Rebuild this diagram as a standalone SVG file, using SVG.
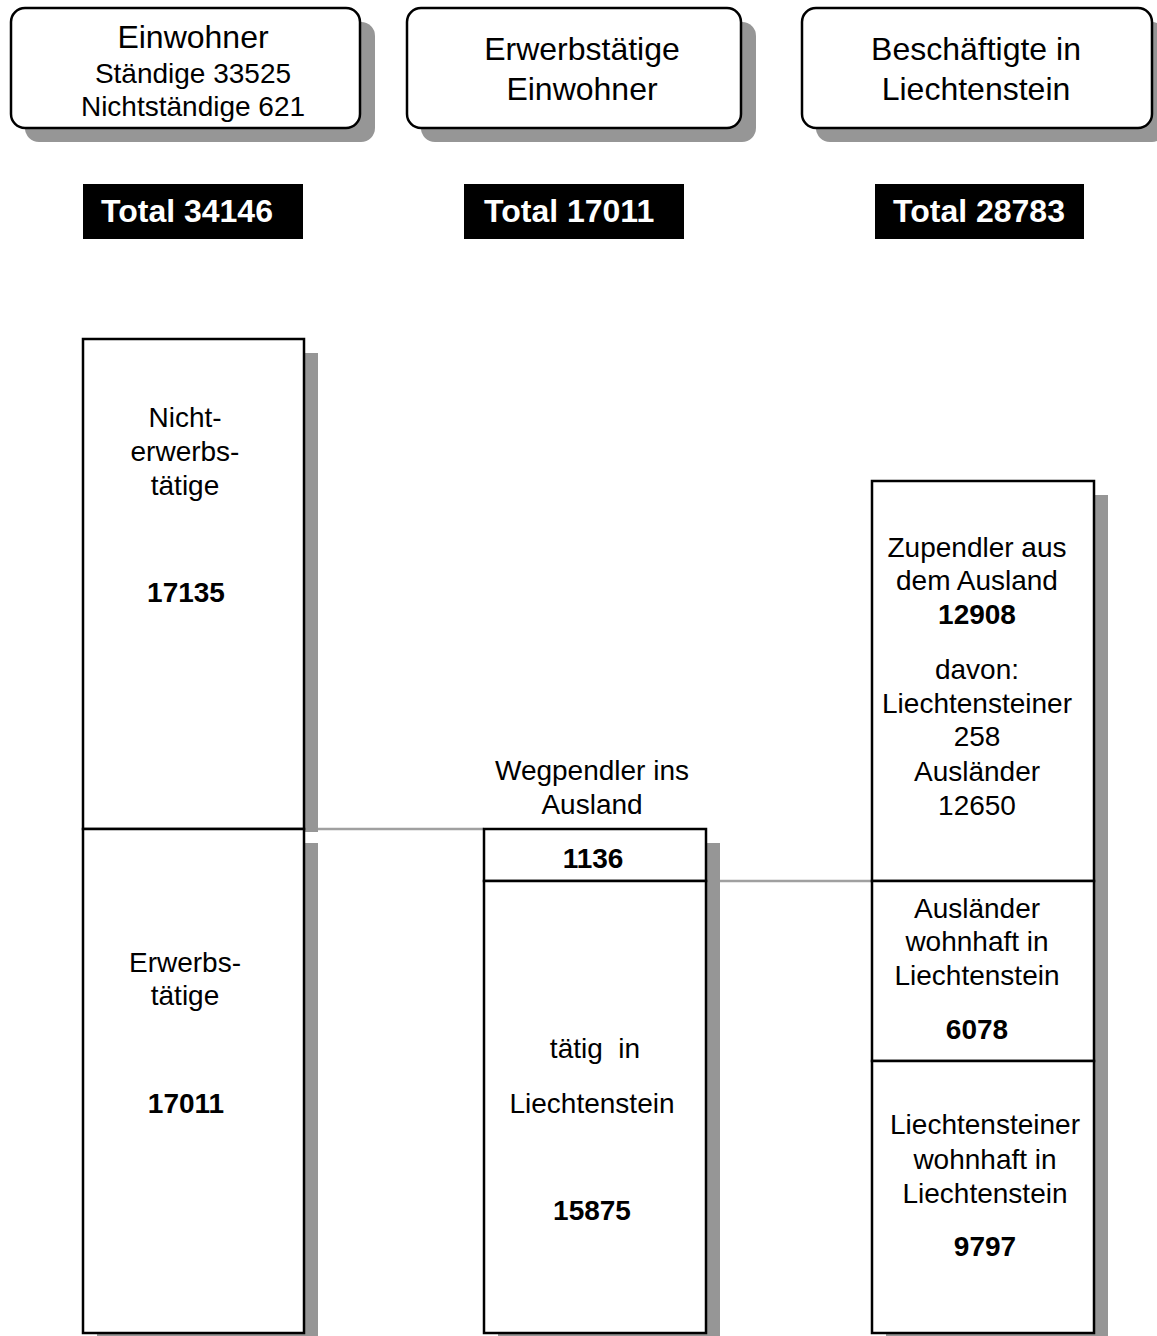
<svg xmlns="http://www.w3.org/2000/svg" width="1157" height="1336" viewBox="0 0 1157 1336">
<style>
text{font-family:"Liberation Sans",Arial,sans-serif;fill:#000;text-anchor:middle}
.h{font-size:32px}
.t{font-size:28px}
.b{font-size:28px;font-weight:bold}
.tot{font-size:32px;font-weight:bold;fill:#fff;text-anchor:start}
.sh{fill:#969696}
.box{fill:#fff;stroke:#000;stroke-width:2.5}
.rb{fill:#fff;stroke:#000;stroke-width:2.5}
.con{stroke:#a0a0a0;stroke-width:2.5;fill:none}
</style>
<rect width="1157" height="1336" fill="#fff"/>

<g id="head-einwohner">
<rect class="sh" x="25" y="22" width="350" height="120" rx="14"/>
<rect class="rb" x="11" y="8" width="349" height="120" rx="14"/>
<text class="h" x="193" y="48">Einwohner</text>
<text class="t" x="193" y="83">Ständige 33525</text>
<text class="t" x="193" y="116">Nichtständige 621</text>
</g>

<g id="head-erwerb">
<rect class="sh" x="421" y="22" width="335" height="120" rx="14"/>
<rect class="rb" x="407" y="8" width="334" height="120" rx="14"/>
<text class="h" x="582" y="60">Erwerbstätige</text>
<text class="h" x="582" y="100">Einwohner</text>
</g>

<g id="head-beschaeftigte">
<rect class="sh" x="816" y="22" width="350" height="120" rx="14"/>
<rect class="rb" x="802" y="8" width="350" height="120" rx="14"/>
<text class="h" x="976" y="60">Beschäftigte in</text>
<text class="h" x="976" y="100">Liechtenstein</text>
</g>

<g id="total1"><rect x="83" y="184" width="220" height="55" fill="#000"/><text class="tot" x="101" y="222">Total 34146</text></g>
<g id="total2"><rect x="464" y="184" width="220" height="55" fill="#000"/><text class="tot" x="484" y="222">Total 17011</text></g>
<g id="total3"><rect x="875" y="184" width="209" height="55" fill="#000"/><text class="tot" x="893" y="222">Total 28783</text></g>

<g id="connectors">
<line class="con" x1="304" y1="829" x2="484" y2="829"/>
<line class="con" x1="706" y1="881" x2="872" y2="881"/>
</g>

<g id="nichterwerbstaetige">
<rect class="sh" x="97" y="353" width="221" height="479"/>
<rect class="box" x="83" y="339" width="221" height="490"/>
<text class="t" x="185" y="427">Nicht-</text>
<text class="t" x="185" y="461">erwerbs-</text>
<text class="t" x="185" y="495">tätige</text>
<text class="b" x="186" y="602">17135</text>
</g>

<g id="erwerbstaetige">
<rect class="sh" x="97" y="843" width="221" height="504"/>
<rect class="box" x="83" y="829" width="221" height="504"/>
<text class="t" x="185" y="972">Erwerbs-</text>
<text class="t" x="185" y="1005">tätige</text>
<text class="b" x="186" y="1113">17011</text>
</g>

<g id="wegpendler">
<text class="t" x="592" y="780">Wegpendler ins</text>
<text class="t" x="592" y="814">Ausland</text>
<rect class="sh" x="498" y="843" width="222" height="504"/>
<rect class="box" x="484" y="829" width="222" height="52"/>
<text class="b" x="593" y="868">1136</text>
</g>

<g id="taetig-in-li">
<rect class="box" x="484" y="881" width="222" height="452"/>
<text class="t" x="595" y="1058" style="white-space:pre">tätig  in</text>
<text class="t" x="592" y="1113">Liechtenstein</text>
<text class="b" x="592" y="1220">15875</text>
</g>

<g id="zupendler">
<rect class="sh" x="886" y="495" width="222" height="852"/>
<rect class="box" x="872" y="481" width="222" height="400"/>
<text class="t" x="977" y="557">Zupendler aus</text>
<text class="t" x="977" y="590">dem Ausland</text>
<text class="b" x="977" y="624">12908</text>
<text class="t" x="977" y="679">davon:</text>
<text class="t" x="977" y="713">Liechtensteiner</text>
<text class="t" x="977" y="746">258</text>
<text class="t" x="977" y="781">Ausländer</text>
<text class="t" x="977" y="815">12650</text>
</g>

<g id="auslaender-li">
<rect class="box" x="872" y="881" width="222" height="180"/>
<text class="t" x="977" y="918">Ausländer</text>
<text class="t" x="977" y="951">wohnhaft in</text>
<text class="t" x="977" y="985">Liechtenstein</text>
<text class="b" x="977" y="1039">6078</text>
</g>

<g id="liechtensteiner-li">
<rect class="box" x="872" y="1061" width="222" height="272"/>
<text class="t" x="985" y="1134">Liechtensteiner</text>
<text class="t" x="985" y="1169">wohnhaft in</text>
<text class="t" x="985" y="1203">Liechtenstein</text>
<text class="b" x="985" y="1256">9797</text>
</g>
</svg>
